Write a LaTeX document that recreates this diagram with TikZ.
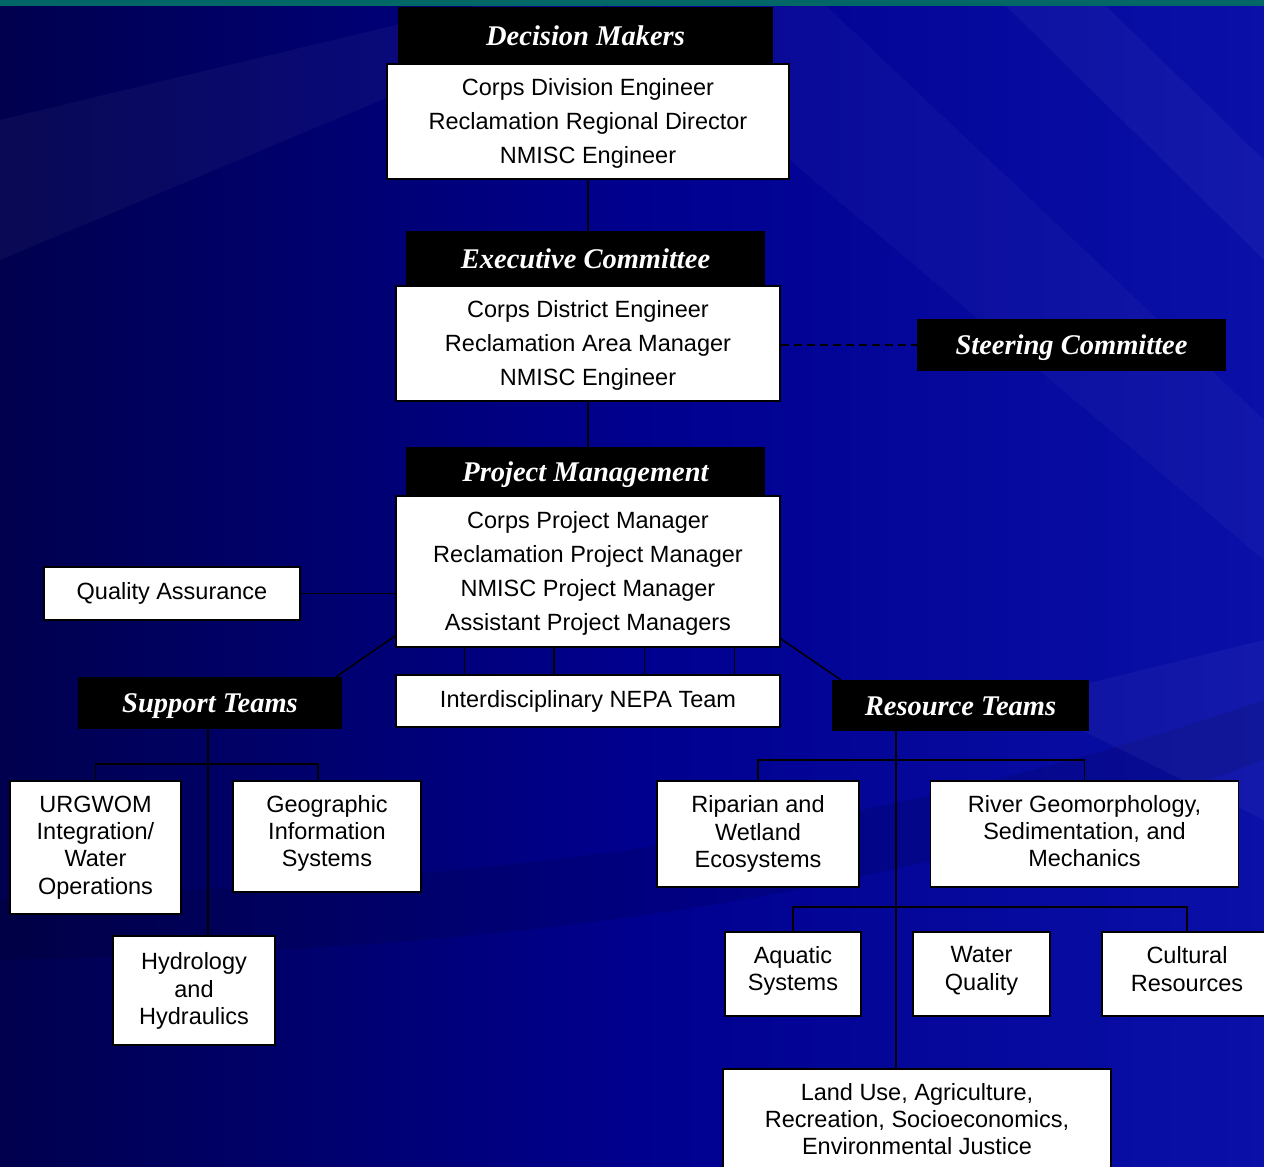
\documentclass[tikz,border=0pt]{standalone}
\usepackage{fontspec}
\setmainfont{Liberation Sans}
\newfontfamily\hdfont{Liberation Serif}
\usetikzlibrary{calc}
\definecolor{teal1}{HTML}{006666}
\definecolor{bgA}{HTML}{00004E}
\definecolor{bgB}{HTML}{00008E}
\definecolor{bgC}{HTML}{0A10A8}
\tikzset{
  hdr/.style={fill=black, text=white, inner sep=0pt, text height=22pt, text depth=3pt,
    font=\hdfont\bfseries\itshape\fontsize{28.5}{32}\selectfont},
  wbox/.style={draw=black, fill=white, line width=1.6pt, inner sep=0pt, align=center,
    font=\fontsize{23.5}{34}\selectfont},
  tbox/.style={wbox, font=\fontsize{23.5}{27.3}\selectfont},
  link/.style={draw=black, line width=1.5pt},
  dlink/.style={link, dash pattern=on 8pt off 5pt}
}
\begin{document}
\begin{tikzpicture}[x=1pt,y=-1pt]
\useasboundingbox (0,0) rectangle (1264,1167);
\clip (0,0) rectangle (1264,1167);
% background
\shade[left color=bgA, right color=bgC, middle color=bgB] (0,0) rectangle (1264,1167);
\fill[white, opacity=0.035] (0,120) -- (500,0) -- (620,0) -- (0,260) -- cycle;
\fill[white, opacity=0.03] (600,0) -- (820,0) -- (1264,420) -- (1264,560) -- cycle;
\fill[white, opacity=0.04] (1000,0) -- (1100,0) -- (1264,160) -- (1264,260) -- cycle;
\fill[black, opacity=0.10] (0,900) .. controls (400,880) and (800,860) .. (1264,700) -- (1264,760) .. controls (800,930) and (400,950) .. (0,960) -- cycle;
\fill[white, opacity=0.04] (1020,700) -- (1264,640) -- (1264,820) -- cycle;
\fill[teal1] (0,0) rectangle (1264,6);

% headers
\node[hdr, minimum width=375, minimum height=57] (dmhead) at (585.5,35.5) {Decision Makers};
\node[hdr, minimum width=359, minimum height=55] (echead) at (585.5,258.5) {Executive Committee};
\node[hdr, minimum width=309, minimum height=52] (steer) at (1071.5,345) {Steering Committee};
\node[hdr, minimum width=359, minimum height=49] (pmhead) at (585.5,471.5) {Project Management};
\node[hdr, minimum width=264, minimum height=52] (supphead) at (210,703) {Support Teams};
\node[hdr, minimum width=257, minimum height=51] (reshead) at (960.5,705.5) {Resource Teams};

% boxes
\node[wbox, text depth=1pt, minimum width=402, minimum height=115] (dmbox) at (588,121.5)
  {Corps Division Engineer\\Reclamation Regional Director\\NMISC Engineer};
\node[wbox, text depth=1pt, minimum width=384, minimum height=115] (ecbox) at (588,343.5)
  {Corps District Engineer\\Reclamation Area Manager\\NMISC Engineer};
\node[wbox, text depth=1pt, minimum width=384, minimum height=151] (pmbox) at (588,571.5)
  {Corps Project Manager\\Reclamation Project Manager\\NMISC Project Manager\\Assistant Project Managers};
\node[wbox, minimum width=256, minimum height=53] (qa) at (172,593.5) {Quality Assurance};
\node[wbox, minimum width=384, minimum height=52] (nepa) at (588,701) {Interdisciplinary NEPA Team};
\node[tbox, minimum width=171, minimum height=133] (urg) at (95.5,847.5)
  {URGWOM\\Integration/\\Water\\Operations};
\node[tbox, text depth=11pt, minimum width=188, minimum height=111] (gis) at (327,836.5)
  {Geographic\\Information\\Systems};
\node[tbox, text depth=4pt, minimum width=162, minimum height=109] (hydro) at (194,990.5)
  {Hydrology\\and\\Hydraulics};
\node[tbox, minimum width=202, minimum height=106] (rip) at (758,834)
  {Riparian and\\Wetland\\Ecosystems};
\node[tbox, text depth=6pt, minimum width=308, minimum height=106] (rgeo) at (1084.5,834)
  {River Geomorphology,\\Sedimentation, and\\Mechanics};
\node[tbox, text depth=11pt, minimum width=136, minimum height=84] (aq) at (793,974)
  {Aquatic\\Systems};
\node[tbox, text depth=11pt, minimum width=137, minimum height=84] (wq) at (981.5,974)
  {Water\\Quality};
\node[tbox, text depth=10pt, minimum width=170, minimum height=84] (cult) at (1187,974)
  {Cultural\\Resources};
\node[tbox, text depth=6pt, minimum width=388, minimum height=106] (land) at (917,1122)
  {Land Use, Agriculture,\\Recreation, Socioeconomics,\\Environmental Justice};

% junction coordinates
\coordinate (sj) at (208,764);
\coordinate (rj1) at (896,760);
\coordinate (rj2) at (896,907);

% connectors
\draw[link] (dmbox.south) -- (dmbox.south |- echead.north);
\draw[link] (ecbox.south) -- (ecbox.south |- pmhead.north);
\draw[dlink] (steer.west -| ecbox.east) -- (steer.west);
\draw[link] (qa.east) -- (qa.east -| pmbox.west);
\draw[link] ($(pmbox.south west)+(0,-12)$) -- ($(supphead.north east)+(-6,0)$);
\draw[link] ($(pmbox.south east)+(0,-9)$) -- ($(reshead.north west)+(9,0)$);
\foreach \f/\n in {0.18/a,0.412/b,0.646/c,0.88/d}{
  \coordinate (np\n) at ($(pmbox.south west)!\f!(pmbox.south east)$);
  \draw[link] (np\n) -- (np\n |- nepa.north);
}
\draw[link] (supphead.south -| sj) -- (hydro.north -| sj);
\draw[link] (urg.north) |- (sj) -| ($(gis.north)+(-9,0)$);
\draw[link] (reshead.south -| rj1) -- (land.north -| rj1);
\draw[link] (rip.north) |- (rj1) -| (rgeo.north);
\draw[link] (aq.north) |- (rj2) -| (cult.north);
\draw[link] ($(wq.north)+(-5,0)$) -- ($(wq.north)+(-5,0)$ |- rj2);
\end{tikzpicture}
\end{document}
